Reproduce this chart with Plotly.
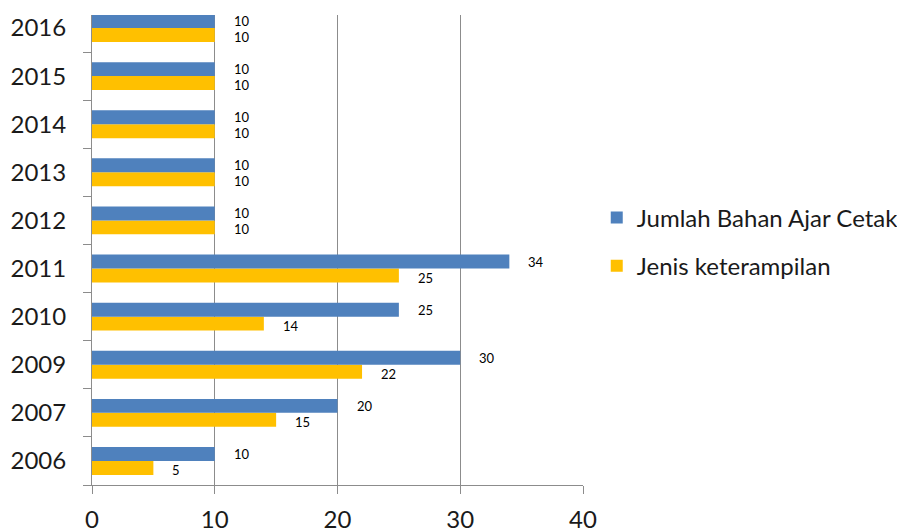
import plotly.graph_objects as go

years = ['2006', '2007', '2009', '2010', '2011', '2012', '2013', '2014', '2015', '2016']
bahan_ajar = [10, 20, 30, 25, 34, 10, 10, 10, 10, 10]
keterampilan = [5, 15, 22, 14, 25, 10, 10, 10, 10, 10]

BLUE = '#4F81BD'
YELLOW = '#FFC000'
GRID = '#8C8C8C'
FONT = 'Lato'

fig = go.Figure()

# in horizontal group mode the first trace sits at the bottom of each pair
fig.add_trace(go.Bar(
    y=years, x=keterampilan, orientation='h',
    name='Jenis keterampilan', legendgroup='b', legendrank=2,
    marker=dict(color=YELLOW, line=dict(width=0)),
))
fig.add_trace(go.Bar(
    y=years, x=bahan_ajar, orientation='h',
    name='Jumlah Bahan Ajar Cetak', legendgroup='a', legendrank=1,
    marker=dict(color=BLUE, line=dict(width=0)),
))

# value labels, a little to the right of each bar end (y given as category index)
for i in range(len(years)):
    fig.add_annotation(x=bahan_ajar[i], y=i, text=str(bahan_ajar[i]),
                       xanchor='left', showarrow=False, xshift=17, yshift=7,
                       font=dict(family=FONT, size=13, color='#000000'))
    fig.add_annotation(x=keterampilan[i], y=i, text=str(keterampilan[i]),
                       xanchor='left', showarrow=False, xshift=17, yshift=-9,
                       font=dict(family=FONT, size=13, color='#000000'))

# page body has an 8px margin, so the figure is 8px smaller than the window
fig.update_layout(
    width=897, height=520,
    margin=dict(l=84, r=322, t=7, b=43, autoexpand=False),
    paper_bgcolor='white',
    plot_bgcolor='white',
    barmode='group',
    bargap=0.42,
    bargroupgap=0,
    font=dict(family=FONT, color='#1a1a1a'),
    legend=dict(
        x=1.028, y=0.517, xanchor='left', yanchor='middle',
        traceorder='grouped', tracegroupgap=14,
        font=dict(family=FONT, size=24, color='#1a1a1a'),
        itemwidth=30,
    ),
    xaxis=dict(
        range=[0, 40], dtick=10, tick0=0,
        showgrid=True, gridcolor=GRID, gridwidth=1,
        showline=True, linecolor=GRID, linewidth=1,
        ticks='outside', ticklen=8, tickcolor=GRID,
        tickfont=dict(family=FONT, size=24, color='#1a1a1a'),
        ticklabelstandoff=5,
        zeroline=False,
        automargin=False,
    ),
    yaxis=dict(
        type='category',
        range=[-0.5, 9.27],
        showgrid=False,
        showline=True, linecolor=GRID, linewidth=1,
        ticks='outside', ticklen=8, tickcolor=GRID,
        tickson='boundaries',
        tickfont=dict(family=FONT, size=24, color='#1a1a1a'),
        ticklabelstandoff=20,
        automargin=False,
    ),
)

fig.write_html("out.html")
